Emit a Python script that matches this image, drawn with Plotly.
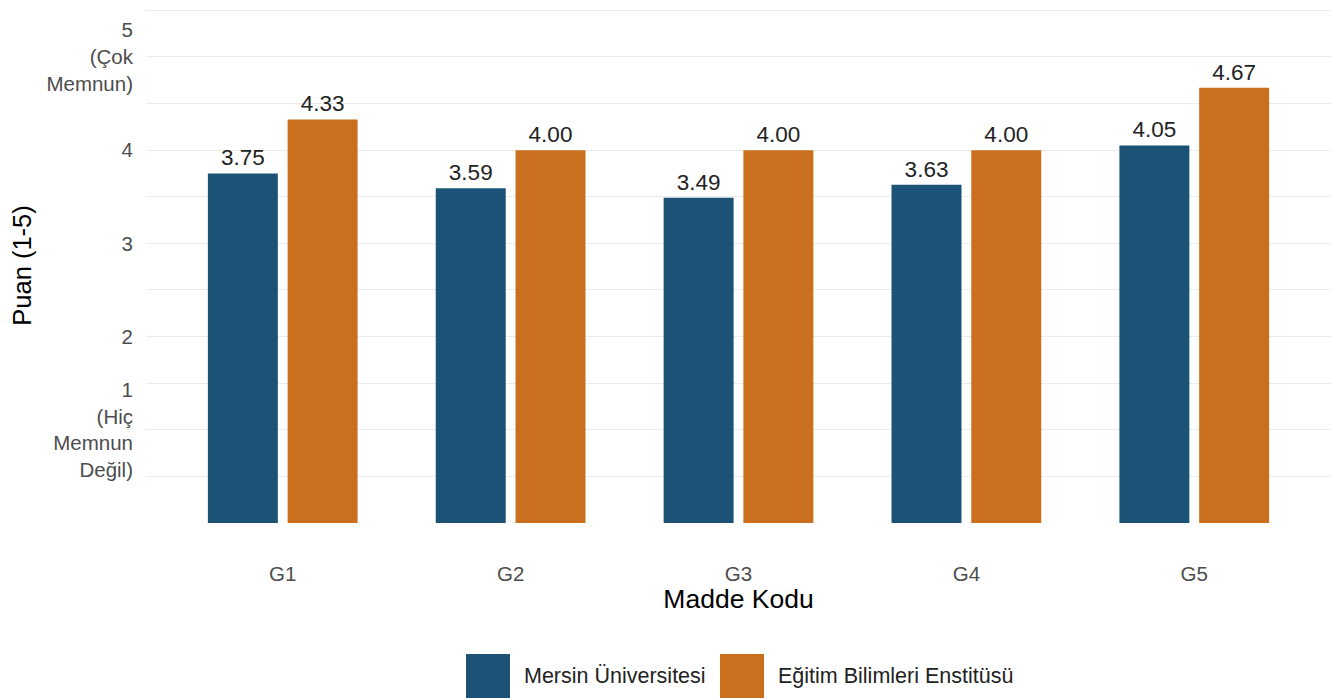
import plotly.graph_objects as go

# ---- data ----
categories = ["G1", "G2", "G3", "G4", "G5"]
series_names = ["Mersin Üniversitesi", "Eğitim Bilimleri Enstitüsü"]
mersin_values = [3.75, 3.59, 3.49, 3.63, 4.05]
ebe_values = [4.33, 4.00, 4.00, 4.00, 4.67]
y_tick_vals = [1, 2, 3, 4, 5]
y_tick_text = ["1<br>(Hiç<br>Memnun<br>Değil)", "2", "3", "4", "5<br>(Çok<br>Memnun)"]

colors = ["#1B5276", "#CA6F1E"]
FONT = "Liberation Sans, Arial, sans-serif"

# layout geometry (pixels, figure coordinates; page body adds an 8px offset)
W_PX, H_PX = 1333, 690
M_L, M_R, M_T, M_B = 138, 10, 0, 175
PW = W_PX - M_L - M_R
PH = H_PX - M_T - M_B

bar_w = 0.307
dodge = 0.175

fig = go.Figure()
for name, vals, col, off in [
    (series_names[0], mersin_values, colors[0], -dodge - bar_w / 2),
    (series_names[1], ebe_values, colors[1], dodge - bar_w / 2),
]:
    fig.add_trace(go.Bar(
        x=categories, y=vals, name=name,
        marker=dict(color=col, line=dict(width=0)),
        width=bar_w, offset=off,
        texttemplate="%{y:.2f}", textposition="outside",
        textfont=dict(family=FONT, size=22.5, color="#222222"),
        cliponaxis=False, showlegend=False,
    ))

# custom legend with large keys (ggplot-like)
def px_x(p):
    return (p - M_L) / PW

def px_y(p):
    return (M_T + PH - p) / PH

legend_items = [(series_names[0], colors[0], 458), (series_names[1], colors[1], 712)]
shapes = []
annotations = []
for name, col, x0 in legend_items:
    shapes.append(dict(type="rect", xref="paper", yref="paper",
                       x0=px_x(x0), x1=px_x(x0 + 44), y0=px_y(690), y1=px_y(646),
                       fillcolor=col, line=dict(width=0)))
    annotations.append(dict(xref="paper", yref="paper", x=px_x(x0 + 56), y=px_y(668),
                            xanchor="left", yanchor="middle", showarrow=False,
                            text=name, font=dict(family=FONT, size=21.5, color="#222222")))

fig.update_layout(
    width=W_PX, height=H_PX,
    margin=dict(l=M_L, r=M_R, t=M_T, b=M_B, pad=0),
    plot_bgcolor="white", paper_bgcolor="white",
    barmode="overlay",
    font=dict(family=FONT),
    shapes=shapes, annotations=annotations,
    xaxis=dict(
        type="category", range=[-0.6, 4.6],
        showgrid=False, zeroline=False, showline=False,
        ticks="", ticklabelstandoff=36,
        tickfont=dict(family=FONT, size=20.5, color="#4D4D4D"),
        title=dict(text="Madde Kodu", standoff=4,
                   font=dict(family=FONT, size=26.5, color="#000000")),
    ),
    yaxis=dict(
        range=[0, 5.525],
        tickmode="array", tickvals=y_tick_vals, ticktext=y_tick_text,
        showgrid=True, gridcolor="#EBEBEB", gridwidth=1.3,
        minor=dict(tick0=0, dtick=0.5, showgrid=True, gridcolor="#EBEBEB", gridwidth=1.3),
        zeroline=False, showline=False, ticks="", ticklabelstandoff=12,
        tickfont=dict(family=FONT, size=20.5, color="#4D4D4D"),
        title=dict(text="Puan (1-5)", standoff=12,
                   font=dict(family=FONT, size=25.5, color="#000000")),
    ),
)

fig.write_html("out.html")
